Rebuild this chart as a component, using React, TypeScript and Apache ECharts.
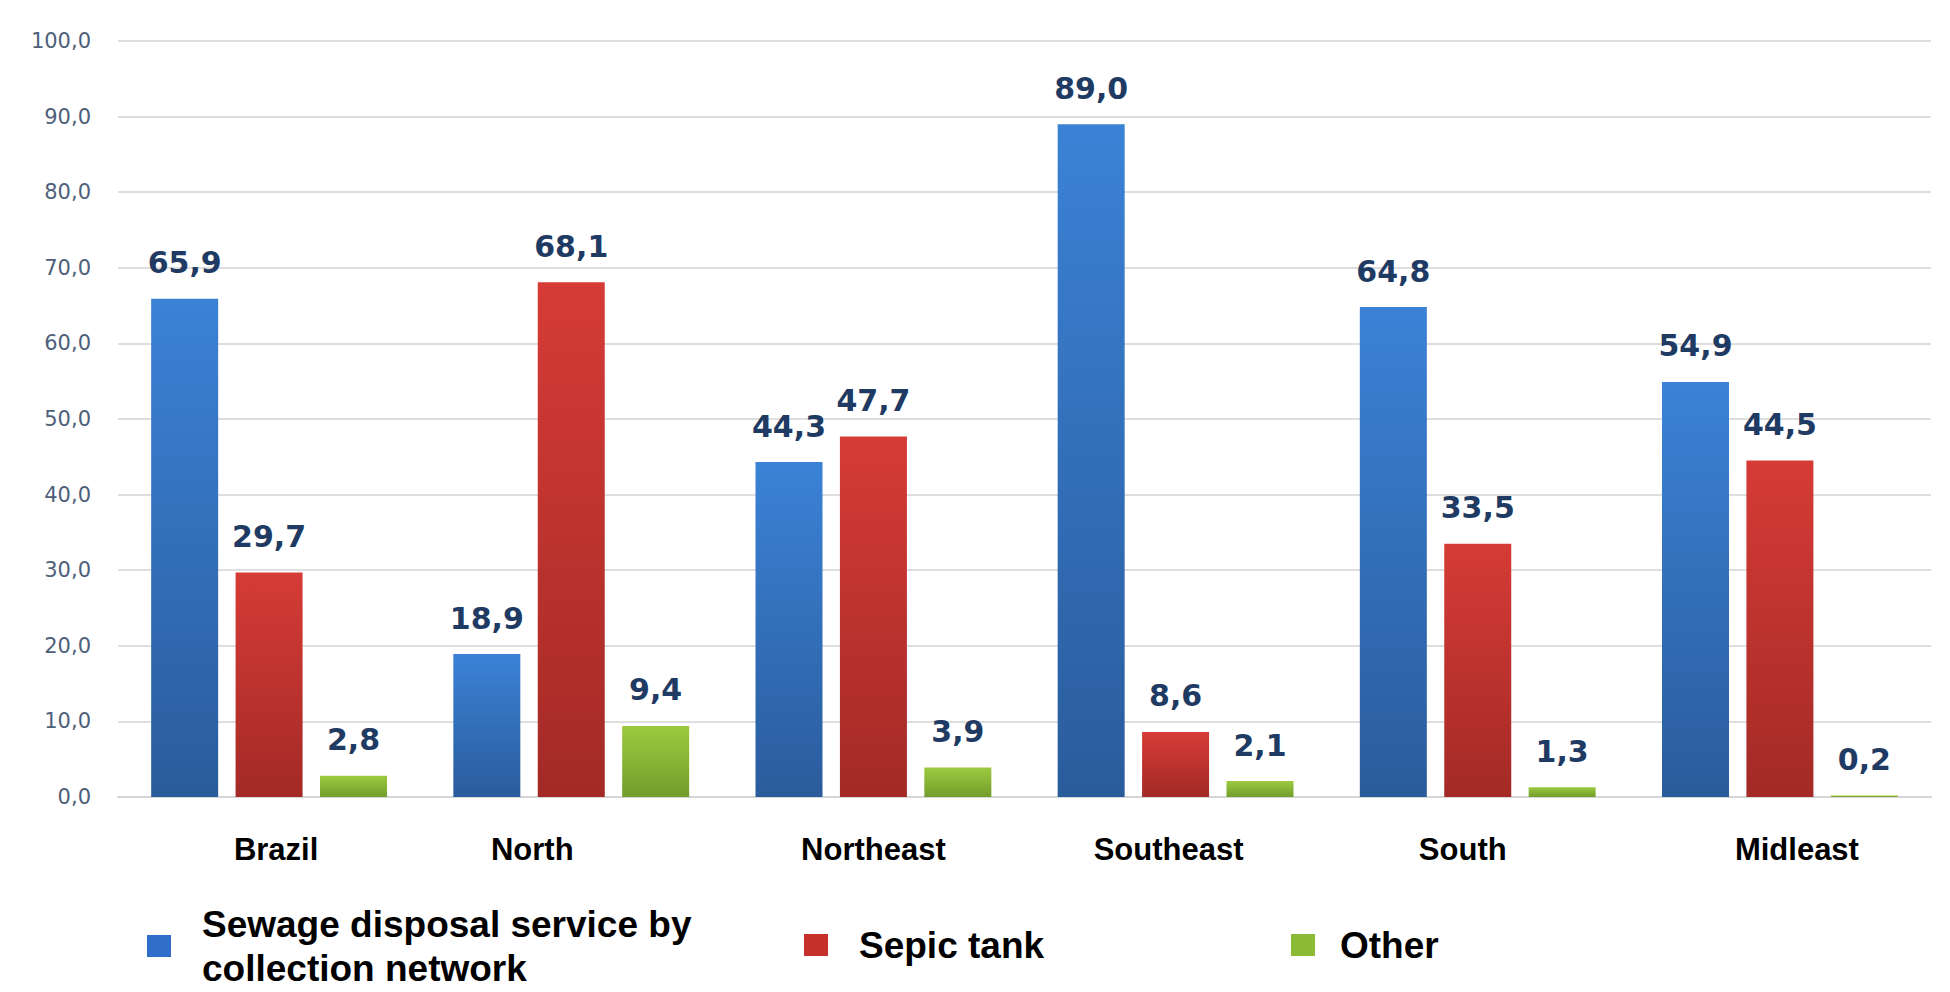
import React, { useEffect, useRef } from "react";
import * as echarts from "echarts";

const categories = ["Brazil", "North", "Northeast", "Southeast", "South", "Midleast"];
const sewageNetwork = [65.9, 18.9, 44.3, 89.0, 64.8, 54.9];
const septicTank = [29.7, 68.1, 47.7, 8.6, 33.5, 44.5];
const other = [2.8, 9.4, 3.9, 2.1, 1.3, 0.2];
const seriesNames = [
  "Sewage disposal service by collection network",
  "Sepic tank",
  "Other",
];
const legendLabels = [
  "Sewage disposal service by\ncollection network",
  "Sepic tank",
  "Other",
];
// horizontal shift of category labels (px) relative to category centre
const labelShift = [7, -39, 0, -7, -15, 17];

const fmt = (v: number) => v.toFixed(1).replace(".", ",");

const grad = (top: string, bottom: string) =>
  new echarts.graphic.LinearGradient(0, 0, 0, 1, [
    { offset: 0, color: top },
    { offset: 1, color: bottom },
  ]);

export default function App() {
  const ref = useRef<HTMLDivElement>(null);
  useEffect(() => {
    if (!ref.current) return;
    const chart = echarts.init(ref.current, undefined, { renderer: "svg" });
    const rich: Record<string, any> = {};
    labelShift.forEach((d, i) => {
      rich["c" + i] = {
        fontFamily: "Liberation Sans",
        fontWeight: "bold",
        fontSize: 31,
        color: "#000",
        padding: d >= 0 ? [0, 0, 0, 2 * d] : [0, -2 * d, 0, 0],
      };
    });
    const valueLabel = {
      show: true,
      position: "top",
      distance: 21,
      fontFamily: "DejaVu Sans",
      fontWeight: "bold",
      fontSize: 30,
      color: "#1f3b63",
      formatter: (p: any) => fmt(p.value),
    };
    const legendIconColors = ["#2f6fc9", "#c8302c", "#8bbb35"];
    const legendLeft = [147, 804, 1291];
    const legendTop = [902, 923, 923];
    const legendTextPad = [26, 26, 20];
    const option: any = {
      animation: false,
      backgroundColor: "#ffffff",
      grid: { left: 118, right: 19, top: 41, bottom: 195 },
      legend: seriesNames.map((n, i) => ({
        data: [{ name: n, itemStyle: { color: legendIconColors[i] } }],
        left: legendLeft[i],
        top: legendTop[i],
        padding: 0,
        icon: "rect",
        itemWidth: 24,
        itemHeight: 22,
        selectedMode: false,
        formatter: () => legendLabels[i],
        textStyle: {
          fontFamily: "Liberation Sans",
          fontWeight: "bold",
          fontSize: 37,
          lineHeight: 44,
          color: "#000",
          padding: [0, 0, 0, legendTextPad[i]],
        },
      })),
      xAxis: {
        type: "category",
        data: categories,
        axisTick: { show: false },
        axisLine: { show: true, lineStyle: { color: "#d6d6d6", width: 2 } },
        axisLabel: {
          margin: 37,
          formatter: (v: string, i: number) => `{c${i}|${v}}`,
          rich,
        },
      },
      yAxis: {
        type: "value",
        min: 0,
        max: 100,
        interval: 10,
        axisLine: { show: false },
        axisTick: { show: false },
        splitLine: { lineStyle: { color: "#dedede", width: 2 } },
        axisLabel: {
          margin: 27,
          fontFamily: "DejaVu Sans",
          fontSize: 21,
          color: "#4f607a",
          formatter: (v: number) => fmt(v),
        },
      },
      series: [
        {
          name: seriesNames[0],
          type: "bar",
          data: sewageNetwork,
          barWidth: 67,
          barGap: "26%",
          barCategoryGap: "22%",
          itemStyle: { color: grad("#3b82d6", "#2a5c9c") },
          label: valueLabel,
        },
        {
          name: seriesNames[1],
          type: "bar",
          data: septicTank,
          barWidth: 67,
          barGap: "26%",
          itemStyle: { color: grad("#d63b36", "#a32a26") },
          label: valueLabel,
        },
        {
          name: seriesNames[2],
          type: "bar",
          data: other,
          barWidth: 67,
          barGap: "26%",
          itemStyle: { color: grad("#9dca40", "#729d2b") },
          label: valueLabel,
        },
      ],
    };
    chart.setOption(option);
    return () => chart.dispose();
  }, []);
  return (
    <div
      ref={ref}
      style={{ position: "absolute", left: 0, top: 0, width: 1950, height: 992 }}
    />
  );
}
